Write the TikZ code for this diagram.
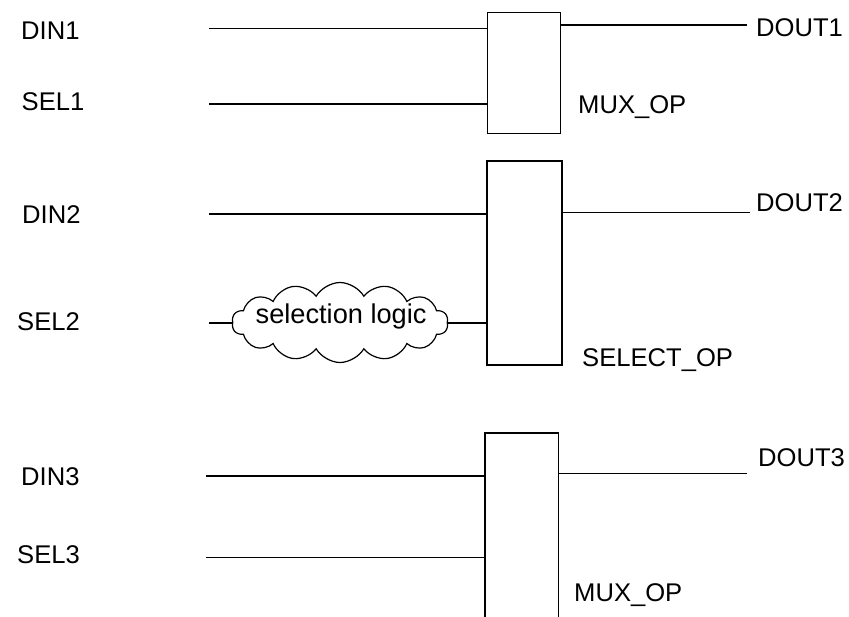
\documentclass[tikz,border=0pt]{standalone}
\usepackage{fontspec}
\setmainfont{Liberation Sans}
\usetikzlibrary{shapes.symbols}
\tikzset{
  wire/.style={line width=1.5pt},
  blk/.style={draw, line width=1.5pt, rectangle, inner sep=0pt},
  lbl/.style={anchor=base west, inner sep=0pt, font=\fontsize{25.6}{30}\selectfont},
  cloudbox/.style={draw, line width=1.2pt, cloud, cloud puffs=14, cloud puff arc=120, aspect=2.7,
    minimum width=216pt, minimum height=80pt, inner sep=0pt},
  cltext/.style={anchor=base west, inner sep=0pt, font=\fontsize{27.2}{30}\selectfont}
}
\begin{document}
\begin{tikzpicture}[x=1pt,y=-1pt]
\useasboundingbox (0,0) rectangle (849,616);
\clip (0,0) rectangle (849,616);
% blocks
\node[blk, minimum width=73.4pt, minimum height=120.6pt] (box1) at (524,73) {};
\node[blk, minimum width=75pt, minimum height=204pt] (box2) at (524.5,263) {};
\node[blk, minimum width=73.3pt, minimum height=207.3pt] (box3) at (521.7,536.4) {};
% cloud
\node[cloudbox] (cl) at (340,322.5) {};
\node[cltext] (cltxt) at (255.5,323.3) {selection logic};
% coordinates
\coordinate (d1) at (209,28.3);
\coordinate (s1) at (209,104);
\coordinate (o1) at (747,25);
\coordinate (d2) at (209,214);
\coordinate (s2) at (209,323);
\coordinate (o2) at (750,212.5);
\coordinate (d3) at (206,476);
\coordinate (s3) at (206,557.3);
\coordinate (o3) at (746.5,473.3);
% wires
\draw[wire] (d1) -- (d1 -| box1.west);
\draw[wire] (s1) -- (s1 -| box1.west);
\draw[wire] (o1 -| box1.east) -- (o1);
\draw[wire] (d2) -- (d2 -| box2.west);
\draw[wire] (s2) -- (s2 -| cl.west);
\draw[wire] (s2 -| cl.east) -- (s2 -| box2.west);
\draw[wire] (o2 -| box2.east) -- (o2);
\draw[wire] (d3) -- (d3 -| box3.west);
\draw[wire] (s3) -- (s3 -| box3.west);
\draw[wire] (o3 -| box3.east) -- (o3);
% labels
\node[lbl] (ldin1) at (21,39) {DIN1};
\node[lbl] (lsel1) at (21.5,110) {SEL1};
\node[lbl] (ldin2) at (22,223.3) {DIN2};
\node[lbl] (lsel2) at (17,330) {SEL2};
\node[lbl] (ldin3) at (21,485) {DIN3};
\node[lbl] (lsel3) at (17,563.3) {SEL3};
\node[lbl] (ldout1) at (756,36) {DOUT1};
\node[lbl] (ldout2) at (756,211.7) {DOUT2};
\node[lbl] (ldout3) at (758,466.7) {DOUT3};
\node[lbl] (lmux1) at (578,113) {MUX\_OP};
\node[lbl] (lsel) at (582,366.7) {SELECT\_OP};
\node[lbl] (lmux3) at (574,601.7) {MUX\_OP};
\end{tikzpicture}
\end{document}
